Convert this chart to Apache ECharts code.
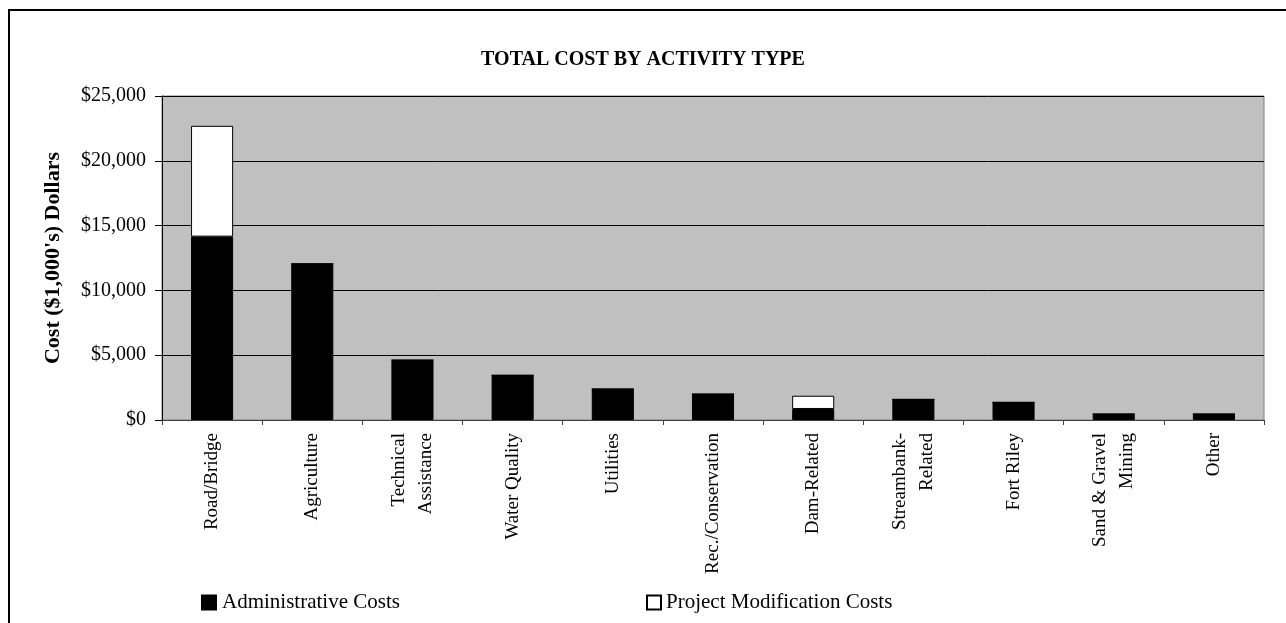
<!DOCTYPE html>
<html>
<head>
<meta charset="utf-8">
<script src="https://cdn.jsdelivr.net/npm/echarts@6/dist/echarts.min.js"></script>
<style>
  html, body { margin: 0; padding: 0; background: #fff; }
  #chart { width: 1286px; height: 623px; }
</style>
</head>
<body>
<div id="chart"></div>
<script>
var categorias = ['Road/Bridge', 'Agriculture', 'Technical\nAssistance', 'Water Quality', 'Utilities',
  'Rec./Conservation', 'Dam-Related', 'Streambank-\nRelated', 'Fort Riley', 'Sand & Gravel\nMining', 'Other'];
var adminCosts = [14150, 12050, 4620, 3450, 2390, 2000, 850, 1590, 1360, 460, 460];
var modCosts = [8550, 0, 0, 0, 0, 0, 1020, 0, 0, 0, 0];
var yTicks = [0, 5000, 10000, 15000, 20000, 25000];

var fonte = '"Liberation Serif", "Times New Roman", serif';

var myChart = echarts.init(document.getElementById('chart'));

// formata $25,000
function dinheiro(v) {
  return '$' + v.toLocaleString('en-US');
}

var option = {
  backgroundColor: '#ffffff',
  animation: false,
  title: {
    text: 'TOTAL COST BY ACTIVITY TYPE',
    left: 'center',
    top: 50,
    padding: 0,
    textStyle: { fontFamily: fonte, fontSize: 20, fontWeight: 'bold', color: '#000' }
  },
  graphic: [
    {
      type: 'rect',
      shape: { x: 9, y: 10, width: 1300, height: 640 },
      style: { fill: 'none', stroke: '#000', lineWidth: 2 }
    }
  ],
  legend: [
    {
      data: ['Administrative Costs'],
      left: 201, top: 592, padding: 0,
      icon: 'rect', itemWidth: 14, itemHeight: 14,
      textStyle: { fontFamily: fonte, fontSize: 21, color: '#000', padding: [0, 0, 0, 1] }
    },
    {
      data: ['Project Modification Costs'],
      left: 646, top: 592, padding: 0,
      icon: 'rect', itemWidth: 14, itemHeight: 14,
      textStyle: { fontFamily: fonte, fontSize: 21, color: '#000', padding: [0, 0, 0, 0] }
    }
  ],
  grid: {
    left: 162, right: 22, top: 96, bottom: 203,
    show: true,
    backgroundColor: '#c0c0c0',
    borderColor: '#808080',
    borderWidth: 1
  },
  xAxis: {
    type: 'category',
    data: categorias,
    axisLine: { lineStyle: { color: '#404040', width: 1 } },
    axisTick: { show: true, length: 5, lineStyle: { color: '#404040' } },
    axisLabel: {
      interval: 0,
      rotate: 90,
      margin: 13,
      fontFamily: fonte,
      fontSize: 19,
      lineHeight: 27,
      color: '#000'
    }
  },
  yAxis: {
    type: 'value',
    min: yTicks[0],
    max: yTicks[yTicks.length - 1],
    interval: 5000,
    name: "Cost ($1,000's) Dollars",
    nameLocation: 'middle',
    nameGap: 98,
    nameTextStyle: { fontFamily: fonte, fontSize: 22, fontWeight: 'bold', color: '#000' },
    axisLine: { show: true, lineStyle: { color: '#000', width: 1 } },
    axisTick: { show: true, length: 7, lineStyle: { color: '#000' } },
    axisLabel: {
      margin: 16,
      fontFamily: fonte,
      fontSize: 20,
      color: '#000',
      formatter: dinheiro
    },
    splitLine: { lineStyle: { color: '#000', width: 1 } }
  },
  series: [
    {
      name: 'Administrative Costs',
      type: 'bar',
      stack: 'total',
      barWidth: '42%',
      itemStyle: { color: '#000', borderColor: '#000', borderWidth: 1 },
      data: adminCosts
    },
    {
      name: 'Project Modification Costs',
      type: 'bar',
      stack: 'total',
      barWidth: '42%',
      itemStyle: { color: '#fff', borderColor: '#000', borderWidth: 1 },
      data: modCosts
    }
  ]
};

option && myChart.setOption(option);
</script>
</body>
</html>
